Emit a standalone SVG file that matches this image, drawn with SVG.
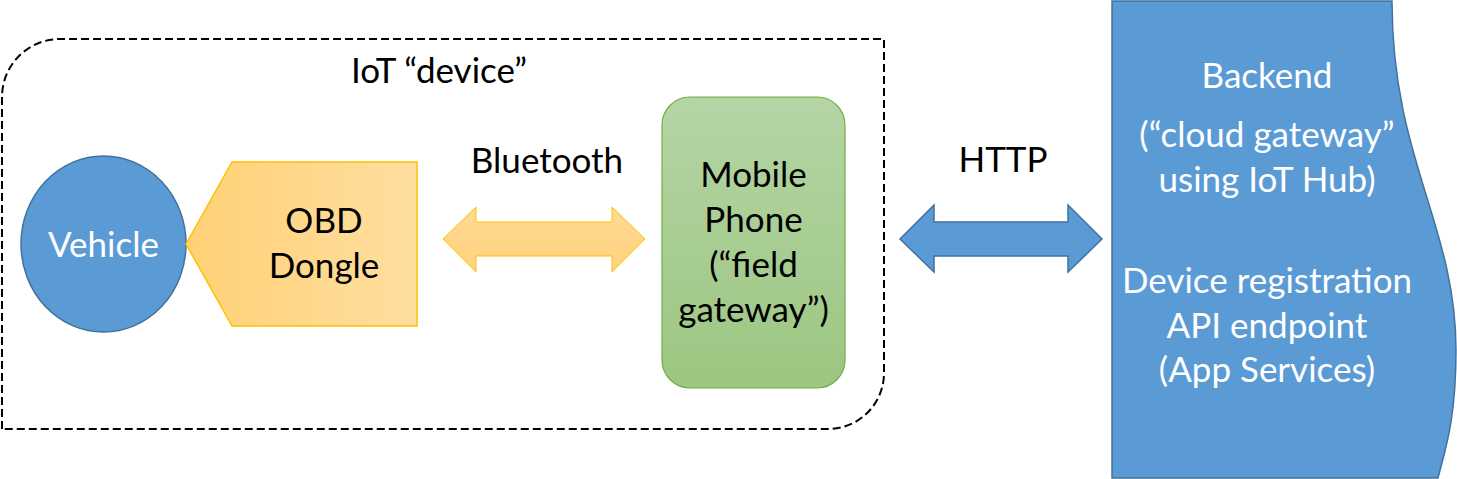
<svg xmlns="http://www.w3.org/2000/svg" width="1457" height="479" viewBox="0 0 1457 479">
  <style>
    text { font-family: Lato, "Open Sans", "Liberation Sans", sans-serif; font-size: 35px; text-anchor: middle; }
    .dark { fill: #000000; }
    .light { fill: #ffffff; }
    .blue { fill: #5B9BD5; stroke: #41719C; stroke-width: 1.5; }
  </style>
  <defs>
    <linearGradient id="orangeH" x1="0" y1="0" x2="1" y2="0">
      <stop offset="0" stop-color="#FFD176"/>
      <stop offset="1" stop-color="#FFDEA0"/>
    </linearGradient>
    <linearGradient id="orangeV" x1="0" y1="0" x2="0" y2="1">
      <stop offset="0" stop-color="#FFDA94"/>
      <stop offset="1" stop-color="#FFD27C"/>
    </linearGradient>
    <linearGradient id="greenV" x1="0" y1="0" x2="0" y2="1">
      <stop offset="0" stop-color="#B5D5A5"/>
      <stop offset="1" stop-color="#9CC681"/>
    </linearGradient>
  </defs>

  <g id="iot-device-boundary">
    <path d="M2 429 L2 97 A58 58 0 0 1 60 39 L884 39 L884 373 A56 56 0 0 1 828 429 Z" fill="none" stroke="#000" stroke-width="2" stroke-dasharray="8 4"/>
    <text class="dark" x="439" y="83">IoT “device”</text>
  </g>

  <g id="vehicle">
    <ellipse cx="103.5" cy="244" rx="82.5" ry="88" class="blue"/>
    <text class="light" x="103.5" y="257">Vehicle</text>
  </g>

  <g id="obd-dongle">
    <polygon points="186,244 232,162 417,162 417,326 232,326" fill="url(#orangeH)" stroke="#FFC000" stroke-width="1.5"/>
    <text class="dark" x="324" y="233">OBD</text>
    <text class="dark" x="324" y="278">Dongle</text>
  </g>

  <g id="mobile-phone">
    <rect x="662" y="97" width="183" height="291" rx="28" ry="28" fill="url(#greenV)" stroke="#70AD47" stroke-width="1.2"/>
    <text class="dark" x="753.5" y="187">Mobile</text>
    <text class="dark" x="753.5" y="232">Phone</text>
    <text class="dark" x="753.5" y="277">(“field</text>
    <text class="dark" x="753.5" y="322">gateway”)</text>
  </g>

  <g id="backend">
    <path d="M1112 1 L1392 1 C1392 160 1456 225 1456 350 C1456 420 1445 450 1438 478 L1112 478 Z" class="blue"/>
    <text class="light" x="1267" y="88">Backend</text>
    <text class="light" x="1267" y="147">(“cloud gateway”</text>
    <text class="light" x="1267" y="192">using IoT Hub)</text>
    <text class="light" x="1267" y="293">Device registration</text>
    <text class="light" x="1267" y="338">API endpoint</text>
    <text class="light" x="1267" y="382">(App Services)</text>
  </g>

  <g id="connectors">
    <g id="bluetooth-link">
      <polygon points="443,239 476,207 476,222 612,222 612,207 645,239 612,272 612,256 476,256 476,272" fill="url(#orangeV)" stroke="#FFC000" stroke-width="1"/>
      <text class="dark" x="547" y="173">Bluetooth</text>
    </g>
    <g id="http-link">
      <polygon points="900,239 934,205 934,222 1068,222 1068,205 1102,239 1068,272 1068,256 934,256 934,272" class="blue"/>
      <text class="dark" x="1003" y="172">HTTP</text>
    </g>
  </g>
</svg>
